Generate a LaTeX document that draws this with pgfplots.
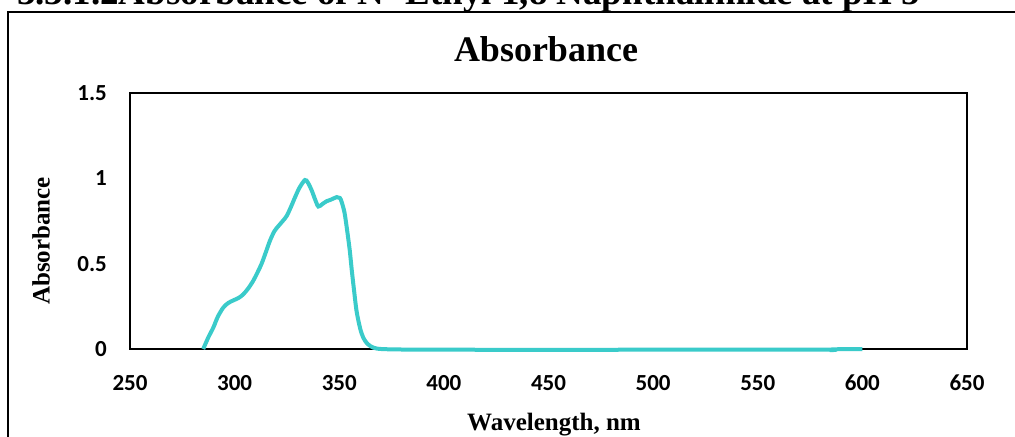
\documentclass[border=0pt]{standalone}
\usepackage{pgfplots}
\pgfplotsset{compat=1.18}
\usepackage{fontspec}
\setmainfont{Liberation Serif}
\newfontfamily\carlito{Carlito}
\definecolor{curve}{RGB}{58,203,202}
\begin{document}
\begin{tikzpicture}
\useasboundingbox (0bp,0bp) rectangle (1015bp,437bp);
\fill[white] (0bp,0bp) rectangle (1015bp,437bp);
\draw[line width=2bp] (8.3bp,-2bp) -- (8.3bp,424.5bp) -- (1017bp,424.5bp);
\node[anchor=base west, inner sep=0pt, font=\fontsize{37bp}{40bp}\selectfont\bfseries] at (17bp,432.5bp) {3.3.1.2Absorbance of N- Ethyl 1,8 Naphthalimide at pH 5};
\node[anchor=base, inner sep=0pt, font=\fontsize{36bp}{40bp}\selectfont\bfseries] at (546bp,375bp) {Absorbance};
\node[rotate=90, inner sep=0pt, font=\fontsize{25bp}{28bp}\selectfont\bfseries] at (41bp,196bp) {Absorbance};
\node[anchor=base, inner sep=0pt, font=\fontsize{25bp}{28bp}\selectfont\bfseries] at (554bp,7bp) {Wavelength, nm};
\begin{axis}[
  at={(130bp,88bp)}, anchor=south west,
  scale only axis, width=837bp, height=256bp,
  xmin=250, xmax=650, ymin=0, ymax=1.5,
  xtick={250,300,...,650}, ytick={0,0.5,1,1.5},
  major tick length=0pt,
  axis line style={line width=1.6bp, black},
  /pgf/number format/assume math mode=true,
  tick label style={font=\fontsize{23bp}{26bp}\selectfont\carlito\bfseries, inner sep=0pt},
  yticklabel style={anchor=east, xshift=-23bp},
  xticklabel style={anchor=north, yshift=-26bp},
  clip=false,
]
\addplot[color=curve, line width=4bp, smooth, tension=0.5] coordinates {
(285,0.0) (287.5,0.07) (289.8,0.125) (292,0.19) (294.6,0.243) (297,0.27)
(299.4,0.285) (302,0.30) (304.1,0.32) (306.5,0.355) (308.9,0.40) (311,0.45)
(312.9,0.50) (315,0.57) (316.9,0.635) (319,0.69) (320.9,0.72) (323,0.75)
(324.9,0.78) (327,0.835) (328.9,0.89) (331,0.945) (333.6,0.99) (335,0.975)
(336.8,0.93) (338.5,0.875) (340,0.835) (342,0.85) (344,0.866) (346,0.875)
(348.8,0.89) (350.3,0.885) (351.2,0.86) (352.5,0.80) (353.6,0.71) (355,0.58)
(356,0.46) (357.2,0.33) (358.3,0.22) (360,0.12) (361.5,0.066) (363.5,0.03)
(366.3,0.008) (370,0.0) (380,-0.003) (400,-0.004) (450,-0.005) (500,-0.004)
(550,-0.003) (584,-0.004) (585,-0.007) (586,-0.002) (600,0.0)
};
\end{axis}
\end{tikzpicture}
\end{document}
